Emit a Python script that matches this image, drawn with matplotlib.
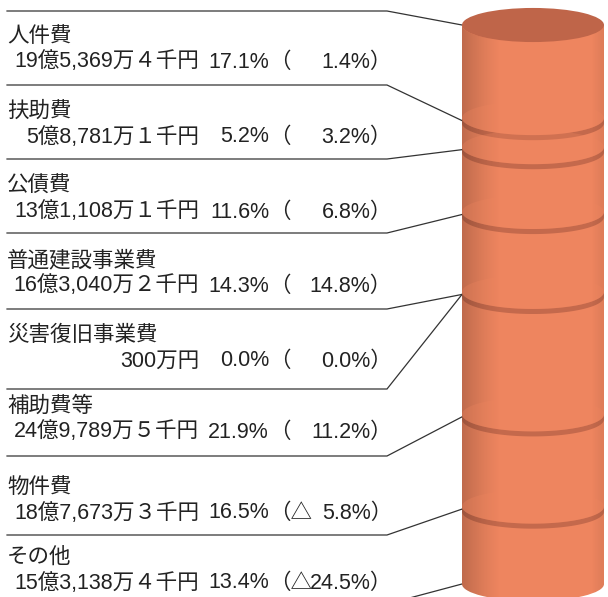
import numpy as np
import matplotlib
matplotlib.use('Agg')
import matplotlib.pyplot as plt
from matplotlib.patches import Ellipse, Polygon, PathPatch
from matplotlib.path import Path

plt.rcParams['font.family'] = ['Liberation Sans', 'Noto Sans CJK JP', 'DejaVu Sans']

# data (top of the cylinder first)
categories = ['人件費', '扶助費', '公債費', '普通建設事業費', '災害復旧事業費', '補助費等', '物件費', 'その他']
amounts = [1953694, 587811, 1311081, 1630402, 3000, 2497895, 1876733, 1531384]  # 千円
shares = [17.1, 5.2, 11.6, 14.3, 0.0, 21.9, 16.5, 13.4]  # %
changes = [1.4, 3.2, 6.8, 14.8, 0.0, 11.2, -5.8, -24.5]  # 前年比 %

body = '#EE855F'
face = '#BF6549'
band = '#C4694C'
FS = 15.5
CJK = ['Noto Sans CJK JP', 'DejaVu Sans']

ZEN = str.maketrans('0123456789', '０１２３４５６７８９')


def fmt_amount(v):
    oku = v // 100000
    man = (v % 100000) // 10
    sen = v % 10
    s = ''
    if oku:
        s += '%d億' % oku
    if man:
        s += '{:,}万'.format(man)
    if sen:
        s += str(sen).translate(ZEN) + '千'
    return s + '円'


fig = plt.figure(figsize=(6.08, 5.97), dpi=100)

# cylinder axes: y = cumulative percent, x = -1..1 across the cylinder
ppu = 559 / 100
ax = fig.add_axes([462 / 608, (13 - 8 * ppu) / 597, 142 / 608, 116 * ppu / 597])
ax.set_xlim(-1, 1)
ax.set_ylim(-8, 108)
ax.axis('off')

H = 3.05   # half height of the ellipses
G = 0.9    # rim between segments

vals = shares[::-1]
bottoms = np.concatenate([[0], np.cumsum(vals)[:-1]])
tops_stack = bottoms + np.array(vals)
ax.bar(0, vals, width=2, bottom=bottoms, color=body, linewidth=0, zorder=1)
ax.add_patch(Ellipse((0, 0), 2, 2 * H, color=body, lw=0, zorder=0.9))

t = np.linspace(0, np.pi, 120)
xa = -np.cos(t)
inner = sorted(set(np.round(tops_stack[:-1], 3)))
for b in inner:
    pts = np.concatenate([
        np.column_stack([xa, b + G / 2 - H * np.sin(t)]),
        np.column_stack([xa[::-1], b - G / 2 - H * np.sin(t[::-1])]),
    ])
    ax.add_patch(Polygon(pts, closed=True, facecolor=band, lw=0, zorder=2))
    # faint disc above each rim
    disc = np.concatenate([
        np.column_stack([xa, b + G / 2 - H * np.sin(t)]),
        np.column_stack([xa[::-1], b + G / 2 + H * np.sin(t[::-1])]),
    ])
    ax.add_patch(Polygon(disc, closed=True, facecolor=body, alpha=0.3, lw=0, zorder=3.5))

# shading across the body
total = tops_stack[-1]
verts = np.concatenate([
    np.column_stack([xa, total - H * np.sin(t)]),
    np.column_stack([-xa, -H * np.sin(t)]),
])
sil = PathPatch(Path(np.vstack([verts, verts[:1]])), transform=ax.transData,
                facecolor='none', edgecolor='none')
gx = np.linspace(-1, 1, 500)
alpha = 0.2 * np.clip((-0.45 - gx) / 0.55, 0, 1) ** 1.3 + 0.07 * np.clip((gx - 0.82) / 0.18, 0, 1)
img = np.zeros((1, gx.size, 4))
img[0, :, 3] = alpha
im = ax.imshow(img, extent=(-1, 1, -H - 1, total + 1), aspect='auto', zorder=3,
               interpolation='bilinear')
im.set_clip_path(sil)

ax.add_patch(Ellipse((0, total), 2, 2 * H, color=face, lw=0, zorder=4))

# labels and leader lines, in pixel coordinates
axl = fig.add_axes([0, 0, 1, 1])
axl.set_xlim(0, 608)
axl.set_ylim(597, 0)
axl.axis('off')
axl.set_zorder(0)
ax.set_zorder(1)

rule_y = [11, 85, 159, 233, 309, 389, 456, 535, 604]
title_y = [36, 111, 186, 260, 335, 406, 487, 557]
tops = [total - sum(shares[:i]) for i in range(len(shares) + 1)]

to_lbl = axl.transData.inverted()
for ry, top in zip(rule_y, tops):
    ex, ey = to_lbl.transform(ax.transData.transform((-1, top)))
    axl.plot([7, 387, ex], [ry, ry, ey], color='#333333', lw=0.9,
             solid_joinstyle='miter', clip_on=True)

txt = dict(fontsize=FS, va='center', color='#222222')
for name, amt, sh, ch, ty in zip(categories, amounts, shares, changes, title_y):
    dy = ty + 26
    axl.text(7, ty, name, ha='left', family=CJK, **txt)
    axl.text(199, dy, fmt_amount(amt), ha='right', **txt)
    axl.text(269, dy, '%.1f%%' % sh, ha='right', **txt)
    axl.text(269, dy, '（△' if ch < 0 else '（', ha='left', family=CJK, **txt)
    axl.text(392, dy, '%.1f%%）' % abs(ch), ha='right', **txt)

fig.savefig('out.png', dpi=100)
